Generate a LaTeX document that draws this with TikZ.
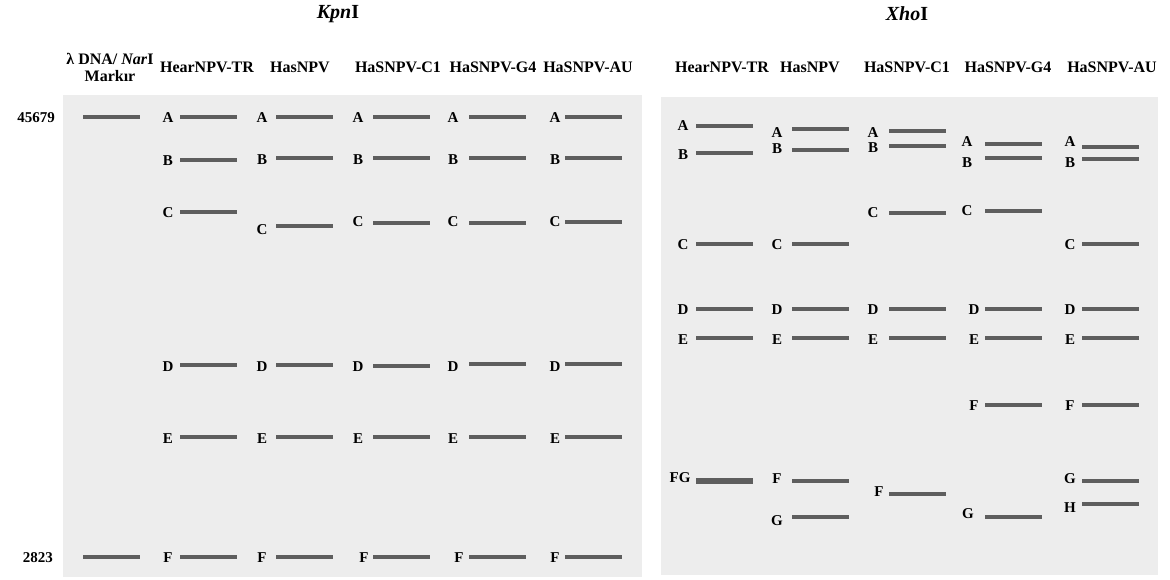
\documentclass[tikz,border=0pt]{standalone}
\usepackage{fontspec}
\setmainfont{Liberation Serif}
\usepackage{xcolor}
\definecolor{gelGray}{HTML}{EDEDED}
\definecolor{bandGray}{HTML}{5E5E5E}
\usetikzlibrary{calc, positioning}
\tikzset{
  band/.style={draw=bandGray, line width=3.5pt},
  thickband/.style={draw=bandGray, line width=5.5pt},
  lbl/.style={font=\fontsize{15}{15}\selectfont\bfseries, anchor=base, yshift=-5pt, inner sep=0pt},
  colhead/.style={font=\fontsize{16}{17}\selectfont\bfseries, align=center, inner sep=0pt},
  enzyme/.style={font=\fontsize{20}{20}\selectfont\bfseries, inner sep=0pt}
}
% band: name, x, y, label, label x, label y
\newcommand{\gelband}[6]{%
  \draw[band] (#2,#3) -- ++(57,0);
  \node[lbl] (#1) at (#5,#6) {#4};}

\begin{document}
\begin{tikzpicture}[x=1pt, y=-1pt]
  \useasboundingbox (0,0) rectangle (1170,580);
  % gel panels
  \fill[gelGray] (63,95) rectangle (642,577);
  \fill[gelGray] (661,97) rectangle (1158,575);

  % enzyme titles
  \node[enzyme] (kpn) at (338,14) {\textit{Kpn}I};
  \node[enzyme] (xho) at (907,14) {\textit{Xho}I};

  % lane headers
  \node[colhead] (marker) at (110,67) {λ DNA/ \textit{Nar}I\\Markır};
  \foreach \cx/\txt [count=\i] in {207/HearNPV-TR, 300/HasNPV, 398/HaSNPV-C1, 493/HaSNPV-G4, 588/HaSNPV-AU}
    \node[colhead] (kh\i) at (\cx,67) {\txt};
  \foreach \cx/\txt [count=\i] in {722/HearNPV-TR, 810/HasNPV, 907/HaSNPV-C1, 1008/HaSNPV-G4, 1112/HaSNPV-AU}
    \node[colhead] (xh\i) at (\cx,67) {\txt};

  % marker sizes
  \draw[band] (83,117) -- ++(57,0);
  \draw[band] (83,557) -- ++(57,0);
  \node[lbl] (size1) at (36,118) {45679};
  \node[lbl] (size2) at (38,557) {2823};

  % KpnI lanes
  \gelband{k1A}{180}{117}{A}{168}{118}
  \gelband{k1B}{180}{160}{B}{168}{161}
  \gelband{k1C}{180}{212}{C}{168}{213}
  \gelband{k1D}{180}{365}{D}{168}{366}
  \gelband{k1E}{180}{437}{E}{168}{438}
  \gelband{k1F}{180}{557}{F}{168}{557}

  \gelband{k2A}{276}{117}{A}{262}{118}
  \gelband{k2B}{276}{158}{B}{262}{160}
  \gelband{k2C}{276}{226}{C}{262}{230}
  \gelband{k2D}{276}{365}{D}{262}{366}
  \gelband{k2E}{276}{437}{E}{262}{438}
  \gelband{k2F}{276}{557}{F}{262}{557}

  \gelband{k3A}{373}{117}{A}{358}{118}
  \gelband{k3B}{373}{158}{B}{358}{160}
  \gelband{k3C}{373}{223}{C}{358}{221}
  \gelband{k3D}{373}{366}{D}{358}{366}
  \gelband{k3E}{373}{437}{E}{358}{438}
  \gelband{k3F}{373}{557}{F}{364}{557}

  \gelband{k4A}{469}{117}{A}{453}{118}
  \gelband{k4B}{469}{158}{B}{453}{160}
  \gelband{k4C}{469}{223}{C}{453}{221}
  \gelband{k4D}{469}{364}{D}{453}{366}
  \gelband{k4E}{469}{437}{E}{453}{438}
  \gelband{k4F}{469}{557}{F}{459}{557}

  \gelband{k5A}{565}{117}{A}{555}{118}
  \gelband{k5B}{565}{158}{B}{555}{160}
  \gelband{k5C}{565}{222}{C}{555}{221}
  \gelband{k5D}{565}{364}{D}{555}{366}
  \gelband{k5E}{565}{437}{E}{555}{438}
  \gelband{k5F}{565}{557}{F}{555}{557}

  % XhoI lanes
  \gelband{x1A}{696}{126}{A}{683}{126}
  \gelband{x1B}{696}{153}{B}{683}{155}
  \gelband{x1C}{696}{244}{C}{683}{245}
  \gelband{x1D}{696}{309}{D}{683}{309}
  \gelband{x1E}{696}{338}{E}{683}{339}
  \draw[thickband] (696,481) -- ++(57,0);
  \node[lbl] (x1FG) at (680,477) {FG};

  \gelband{x2A}{792}{129}{A}{777}{133}
  \gelband{x2B}{792}{150}{B}{777}{149}
  \gelband{x2C}{792}{244}{C}{777}{245}
  \gelband{x2D}{792}{309}{D}{777}{309}
  \gelband{x2E}{792}{338}{E}{777}{339}
  \gelband{x2F}{792}{481}{F}{777}{478}
  \gelband{x2G}{792}{517}{G}{777}{520}

  \gelband{x3A}{889}{131}{A}{873}{133}
  \gelband{x3B}{889}{146}{B}{873}{148}
  \gelband{x3C}{889}{213}{C}{873}{213}
  \gelband{x3D}{889}{309}{D}{873}{309}
  \gelband{x3E}{889}{338}{E}{873}{339}
  \gelband{x3F}{889}{494}{F}{879}{491}

  \gelband{x4A}{985}{144}{A}{967}{142}
  \gelband{x4B}{985}{158}{B}{967}{163}
  \gelband{x4C}{985}{211}{C}{967}{211}
  \gelband{x4D}{985}{309}{D}{974}{309}
  \gelband{x4E}{985}{338}{E}{974}{339}
  \gelband{x4F}{985}{405}{F}{974}{405}
  \gelband{x4G}{985}{517}{G}{968}{513}

  \gelband{x5A}{1082}{147}{A}{1070}{142}
  \gelband{x5B}{1082}{159}{B}{1070}{163}
  \gelband{x5C}{1082}{244}{C}{1070}{245}
  \gelband{x5D}{1082}{309}{D}{1070}{309}
  \gelband{x5E}{1082}{338}{E}{1070}{339}
  \gelband{x5F}{1082}{405}{F}{1070}{405}
  \gelband{x5G}{1082}{481}{G}{1070}{478}
  \gelband{x5H}{1082}{504}{H}{1070}{507}
\end{tikzpicture}
\end{document}
